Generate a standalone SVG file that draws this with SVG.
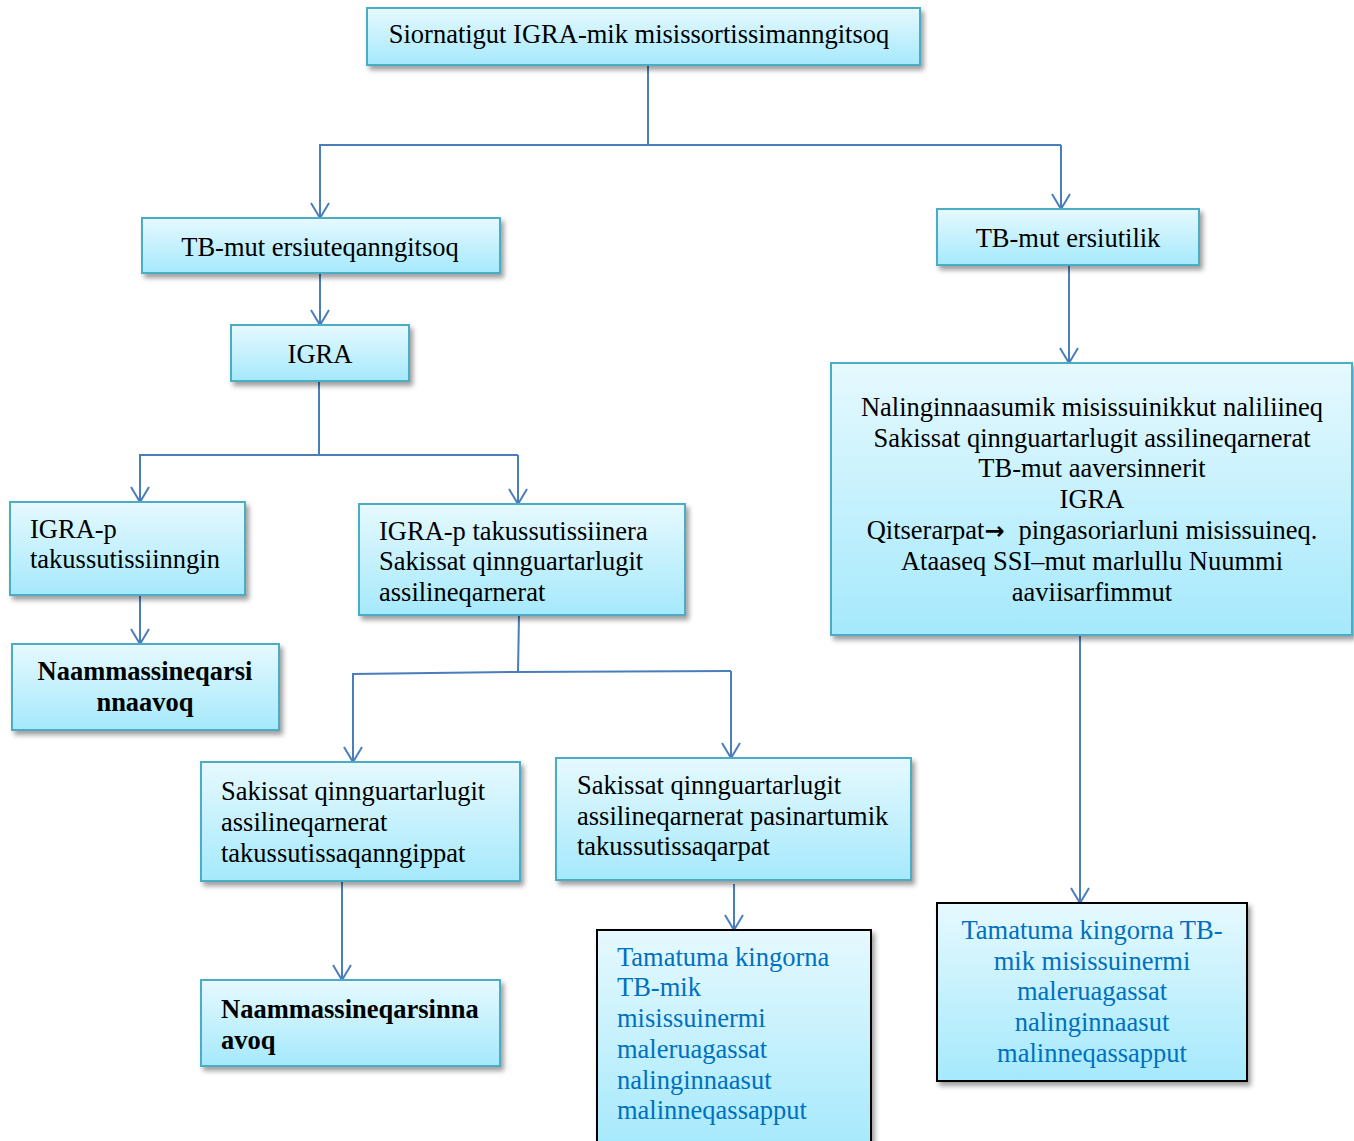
<svg xmlns="http://www.w3.org/2000/svg" width="1354" height="1141" viewBox="0 0 1354 1141">
<defs>
<linearGradient id="g" x1="0" y1="0" x2="0" y2="1">
<stop offset="0" stop-color="#e6f9fe"/>
<stop offset="1" stop-color="#a5e9fc"/>
</linearGradient>
<filter id="sh" x="-10%" y="-10%" width="125%" height="135%">
<feDropShadow dx="3" dy="4" stdDeviation="2.5" flood-color="#000" flood-opacity="0.38"/>
</filter>
<marker id="ar" markerUnits="userSpaceOnUse" markerWidth="22" markerHeight="22" viewBox="0 0 22 22" refX="17" refY="11" orient="auto">
<path d="M2,2 L17,11 L2,20" fill="none" stroke="#4a7ebb" stroke-width="2"/>
</marker>
</defs>
<style>
.b{fill:url(#g);stroke:#4bacc6;stroke-width:2;filter:url(#sh)}
.k{fill:url(#g);stroke:#000;stroke-width:2;filter:url(#sh)}
.t{font-family:"Liberation Serif","Times New Roman",serif;font-size:26.5px;fill:#000}
.c{text-anchor:middle}
.bd{font-weight:bold}
.bl{fill:#0070c0}
.ln{fill:none;stroke:#4a7ebb;stroke-width:2}
.arw{font-family:"DejaVu Sans",sans-serif;font-weight:bold;font-size:24px}
</style>
<g id="connectors">
<path class="ln" d="M648,65 V145 H1061"/>
<path class="ln" d="M648,145 H320 V218" marker-end="url(#ar)"/>
<path class="ln" d="M1061,145 V209" marker-end="url(#ar)"/>
<path class="ln" d="M320,273 V325" marker-end="url(#ar)"/>
<path class="ln" d="M319,381 V455 H518"/>
<path class="ln" d="M319,455 H140 V502" marker-end="url(#ar)"/>
<path class="ln" d="M518,455 V504" marker-end="url(#ar)"/>
<path class="ln" d="M140,595 V644" marker-end="url(#ar)"/>
<path class="ln" d="M519,615 L518,672 L731,671"/>
<path class="ln" d="M518,672 L353,674 V762" marker-end="url(#ar)"/>
<path class="ln" d="M731,671 V758" marker-end="url(#ar)"/>
<path class="ln" d="M1069,265 V363" marker-end="url(#ar)"/>
<path class="ln" d="M1080,635 V903" marker-end="url(#ar)"/>
<path class="ln" d="M342,881 V980" marker-end="url(#ar)"/>
<path class="ln" d="M734,884 V930" marker-end="url(#ar)"/>
</g>
<g id="n1">
<rect class="b" x="367" y="8" width="553" height="57"/>
<text class="t c" x="639" y="43">Siornatigut IGRA-mik misissortissimanngitsoq</text>
</g>
<g id="n2">
<rect class="b" x="142" y="218" width="358" height="55"/>
<text class="t c" x="320" y="256">TB-mut ersiuteqanngitsoq</text>
</g>
<g id="n3">
<rect class="b" x="937" y="209" width="262" height="56"/>
<text class="t c" x="1068" y="247">TB-mut ersiutilik</text>
</g>
<g id="n4">
<rect class="b" x="231" y="325" width="178" height="56"/>
<text class="t c" x="320" y="363">IGRA</text>
</g>
<g id="n5">
<rect class="b" x="831" y="363" width="521" height="272"/>
<text class="t c" x="1092" y="416">Nalinginnaasumik misissuinikkut naliliineq</text>
<text class="t c" x="1092" y="447">Sakissat qinnguartarlugit assilineqarnerat</text>
<text class="t c" x="1092" y="477">TB-mut aaversinnerit</text>
<text class="t c" x="1092" y="508">IGRA</text>
<text class="t c" x="1092" y="539">Qitserarpat<tspan class="arw">→</tspan><tspan dx="14">pingasoriarluni misissuineq.</tspan></text>
<text class="t c" x="1092" y="570">Ataaseq SSI–mut marlullu Nuummi</text>
<text class="t c" x="1092" y="601">aaviisarfimmut</text>
</g>
<g id="n6">
<rect class="b" x="10" y="502" width="235" height="93"/>
<text class="t" x="30" y="538">IGRA-p</text>
<text class="t" x="30" y="568">takussutissiinngin</text>
</g>
<g id="n7">
<rect class="b" x="359" y="504" width="326" height="111"/>
<text class="t" x="379" y="540">IGRA-p takussutissiinera</text>
<text class="t" x="379" y="570">Sakissat qinnguartarlugit</text>
<text class="t" x="379" y="601">assilineqarnerat</text>
</g>
<g id="n8">
<rect class="b" x="12" y="644" width="267" height="86"/>
<text class="t c bd" x="145" y="680">Naammassineqarsi</text>
<text class="t c bd" x="145" y="711">nnaavoq</text>
</g>
<g id="n9">
<rect class="b" x="201" y="762" width="319" height="119"/>
<text class="t" x="221" y="800">Sakissat qinnguartarlugit</text>
<text class="t" x="221" y="831">assilineqarnerat</text>
<text class="t" x="221" y="862">takussutissaqanngippat</text>
</g>
<g id="n10">
<rect class="b" x="556" y="758" width="355" height="122"/>
<text class="t" x="577" y="794">Sakissat qinnguartarlugit</text>
<text class="t" x="577" y="825">assilineqarnerat pasinartumik</text>
<text class="t" x="577" y="855">takussutissaqarpat</text>
</g>
<g id="n11">
<rect class="b" x="201" y="980" width="299" height="86"/>
<text class="t bd" x="221" y="1018">Naammassineqarsinna</text>
<text class="t bd" x="221" y="1049">avoq</text>
</g>
<g id="n12">
<rect class="k" x="597" y="930" width="274" height="220"/>
<text class="t bl" x="617" y="966">Tamatuma kingorna</text>
<text class="t bl" x="617" y="996">TB-mik</text>
<text class="t bl" x="617" y="1027">misissuinermi</text>
<text class="t bl" x="617" y="1058">maleruagassat</text>
<text class="t bl" x="617" y="1089">nalinginnaasut</text>
<text class="t bl" x="617" y="1119">malinneqassapput</text>
</g>
<g id="n13">
<rect class="k" x="937" y="903" width="310" height="178"/>
<text class="t c bl" x="1092" y="939">Tamatuma kingorna TB-</text>
<text class="t c bl" x="1092" y="970">mik misissuinermi</text>
<text class="t c bl" x="1092" y="1000">maleruagassat</text>
<text class="t c bl" x="1092" y="1031">nalinginnaasut</text>
<text class="t c bl" x="1092" y="1062">malinneqassapput</text>
</g>
</svg>
